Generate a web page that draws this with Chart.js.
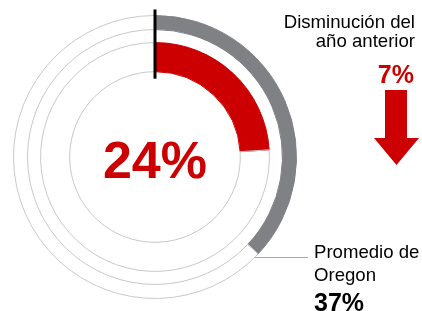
<!DOCTYPE html>
<html>
<head>
<meta charset="utf-8">
<script src="https://cdn.jsdelivr.net/npm/chart.js@4"></script>
<style>
  body { margin: 0; background: #fff; }
  #wrap { position: relative; width: 422px; height: 311px; overflow: hidden; font-family: "Liberation Sans", Arial, sans-serif; }
  #ringChart { position: absolute; left: 0; top: 0; }
  .lbl { position: absolute; color: #000; white-space: nowrap; }
  #centerText { left: 55px; top: 134px; width: 200px; text-align: center; font-size: 52px; line-height: 52px; font-weight: bold; color: #cc0000; }
  #changeText { right: 7px; top: 12px; text-align: right; font-size: 18.6px; line-height: 19px; }
  #changeValue { right: 8px; top: 62px; text-align: right; font-size: 25px; line-height: 24px; font-weight: bold; color: #cc0000; }
  #avgText { left: 314px; top: 240px; font-size: 18.6px; line-height: 23px; }
  #avgValue { left: 314px; top: 290px; font-size: 25px; line-height: 24px; font-weight: bold; }
</style>
</head>
<body>
<div id="wrap">
  <canvas id="ringChart" width="422" height="311"></canvas>
  <div class="lbl" id="centerText"></div>
  <div class="lbl" id="changeText"></div>
  <div class="lbl" id="changeValue"></div>
  <div class="lbl" id="avgText"></div>
  <div class="lbl" id="avgValue"></div>
</div>
<script>
// data
var seriesNames = ['Promedio de Oregon', 'Distrito'];
var seriesValues = [37, 24];
var changeLabels = ['Disminución del', 'año anterior'];
var changeValues = [7];
var avgLabels = ['Promedio de', 'Oregon'];

var red = '#cc0000';
var gray = '#808185';
var lineGray = '#c8c8c8';
var clear = 'rgba(0,0,0,0)';

$ = function(id){ return document.getElementById(id); };
$('centerText').textContent = seriesValues[1] + '%';
$('changeText').innerHTML = changeLabels.join('<br>');
$('changeValue').textContent = changeValues[0] + '%';
$('avgText').innerHTML = avgLabels.join('<br>');
$('avgValue').textContent = seriesValues[0] + '%';

// start line, leader line and arrow
var overlayPlugin = {
	id: 'overlay',
	afterDatasetsDraw: function(chart){
		var ctx = chart.ctx;
		var outer = chart.getDatasetMeta(0).data[0];
		var inner = chart.getDatasetMeta(2).data[0];
		var cx = outer.x, cy = outer.y, r = outer.outerRadius;
		ctx.save();

		ctx.strokeStyle = '#000';
		ctx.lineWidth = 3;
		ctx.beginPath();
		ctx.moveTo(cx, cy - r - 6);
		ctx.lineTo(cx, cy - inner.innerRadius + 7);
		ctx.stroke();

		var ly = Math.round(cy + 100) + 0.5;
		ctx.strokeStyle = '#a8a8a8';
		ctx.lineWidth = 1;
		ctx.beginPath();
		ctx.moveTo(cx + Math.sqrt(r * r - 100 * 100), ly);
		ctx.lineTo(308, ly);
		ctx.stroke();

		ctx.fillStyle = red;
		ctx.beginPath();
		ctx.moveTo(385, 90);
		ctx.lineTo(407, 90);
		ctx.lineTo(407, 138);
		ctx.lineTo(419, 138);
		ctx.lineTo(396.5, 165);
		ctx.lineTo(374, 138);
		ctx.lineTo(385, 138);
		ctx.closePath();
		ctx.fill();
		ctx.restore();
	}
};

var ringCanvas = $('ringChart').getContext('2d');

new Chart(ringCanvas, {
	type: 'doughnut',
	data: {
		labels: ['valor', 'resto'],
		datasets: [
			{
				label: seriesNames[0],
				data: [seriesValues[0], 100 - seriesValues[0]],
				backgroundColor: [gray, clear],
				borderColor: [gray, lineGray],
				borderWidth: 1,
				weight: 14
			},
			{
				label: 'espacio',
				data: [100],
				backgroundColor: [clear],
				borderWidth: 0,
				weight: 13
			},
			{
				label: seriesNames[1],
				data: [seriesValues[1], 100 - seriesValues[1]],
				backgroundColor: [red, clear],
				borderColor: [red, lineGray],
				borderWidth: 1,
				weight: 29
			}
		]
	},
	options: {
		responsive: false,
		animation: false,
		events: [],
		cutout: '60.3%',
		layout: { padding: { left: 13, top: 15, right: 125, bottom: 12 } },
		plugins: {
			legend: { display: false },
			tooltip: { enabled: false }
		}
	},
	plugins: [overlayPlugin]
});
</script>
</body>
</html>
